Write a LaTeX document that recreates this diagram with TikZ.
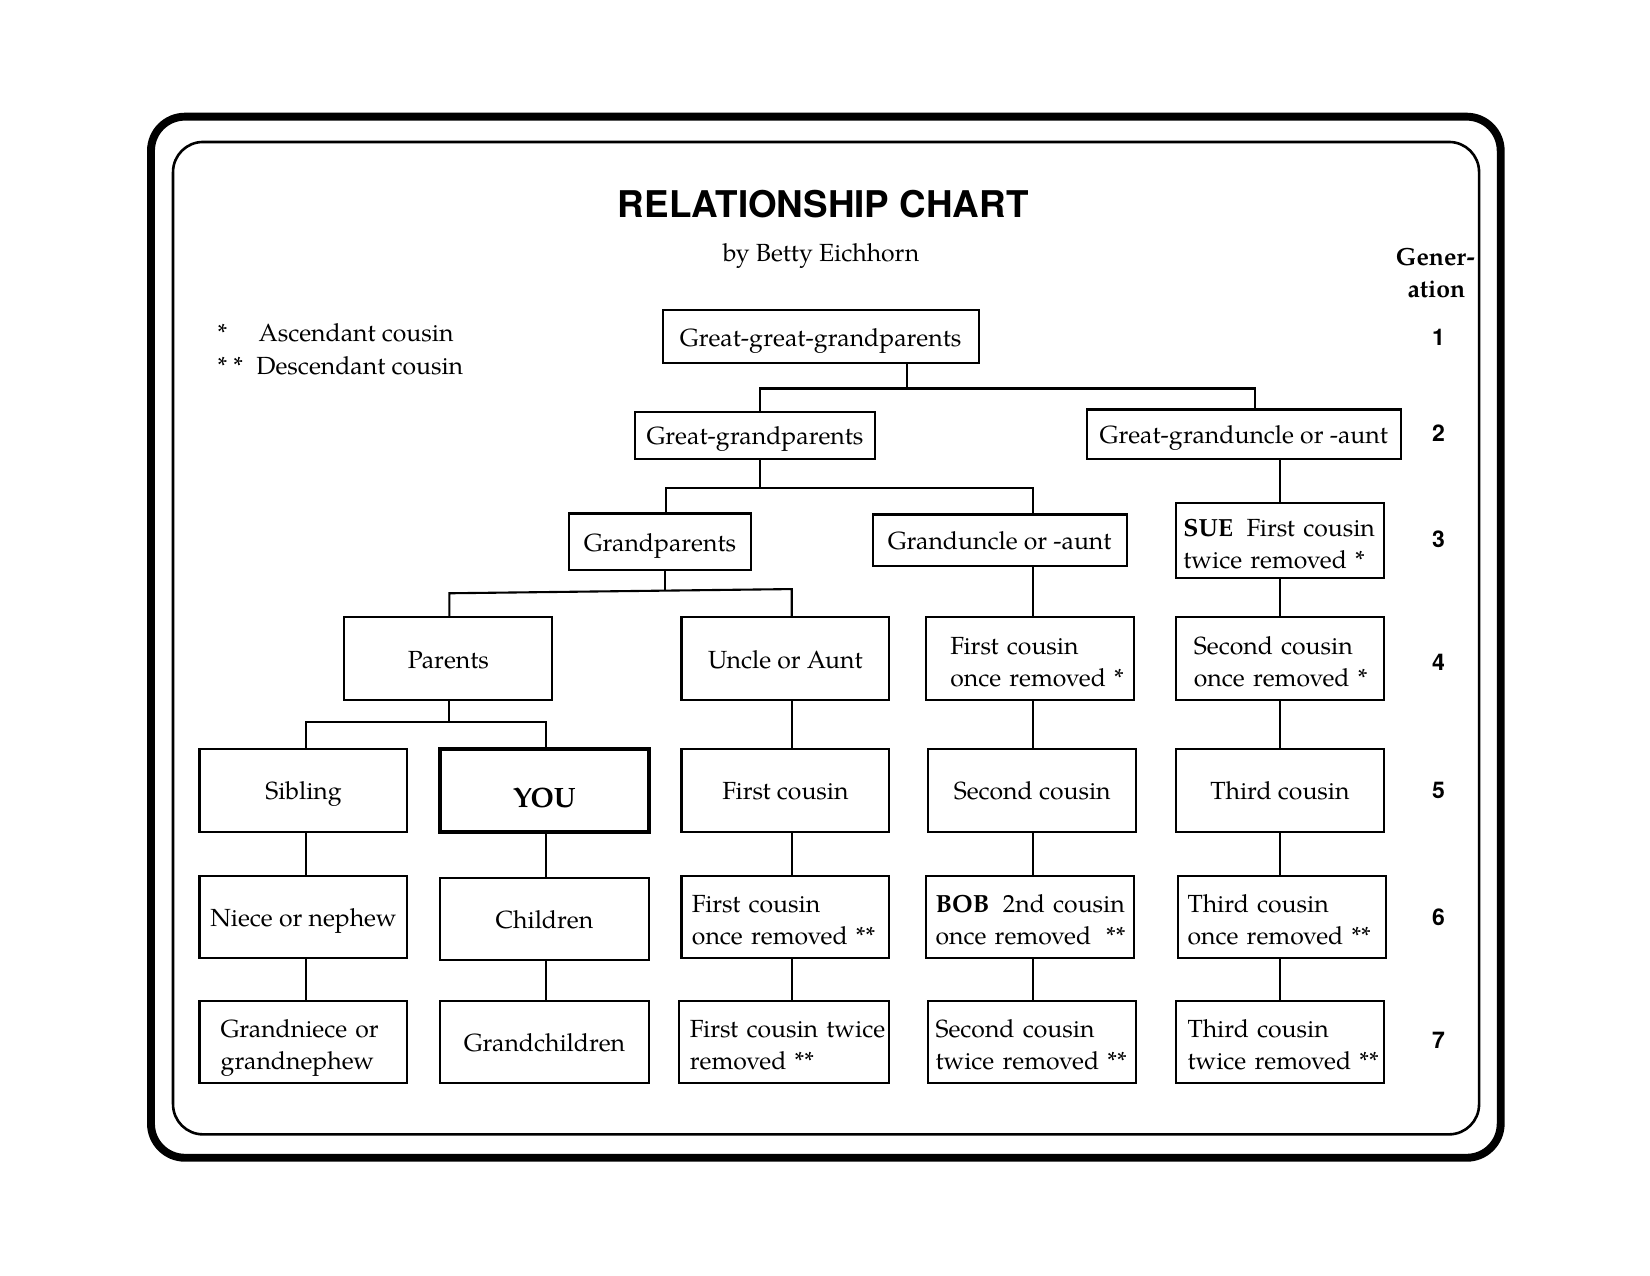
\documentclass[tikz,border=0pt]{standalone}
\usepackage{fontspec}
\setmainfont{texgyrepagella}[Extension=.otf, UprightFont=*-regular, BoldFont=*-bold, ItalicFont=*-italic, BoldItalicFont=*-bolditalic]
\newfontfamily\heros{TeX Gyre Heros}
\newcommand\boxfont{\fontsize{24.8pt}{32.5pt}\selectfont}
\newcommand\titlefont{\heros\bfseries\fontsize{36.8pt}{40pt}\selectfont}
\newcommand\numfont{\heros\bfseries\fontsize{23pt}{26pt}\selectfont}
\newcommand\cbx[7][]{\node[box,minimum width={\dimexpr(#5pt-#3pt)*105/100\relax},minimum height={\dimexpr(#6pt-#4pt)*105/100\relax},#1] (#2) at ({(#3+#5)/2},{(#4+#6)/2}) {#7};}
\newcommand\lbx[8][]{\node[lbox,minimum width={\dimexpr(#5pt-#3pt)*105/100\relax},minimum height={\dimexpr(#6pt-#4pt)*105/100\relax},text width={\dimexpr(#5pt-#3pt-#7pt*2)*105/100\relax},inner xsep={\dimexpr #7pt*105/100\relax},#1] (#2) at ({(#3+#5)/2},{(#4+#6)/2}) {\begin{tabular}{@{}l@{}}\rule{0pt}{33pt}#8\end{tabular}};}
\tikzset{
  box/.style={draw, line width=2.1pt, inner sep=0pt, font=\boxfont, text height=28.75pt, text depth=9.75pt},
  lbox/.style={draw, line width=2.1pt, inner ysep=0pt, font=\boxfont, align=left},
  conn/.style={line width=2.1pt},
  lbl/.style={inner sep=0pt, font=\boxfont},
}
\begin{document}
\begin{tikzpicture}[x=1.05pt,y=-1.05pt]
\useasboundingbox (0,0) rectangle (1571.4,1214.3);
% frames
\draw[line width=7.9pt, rounded corners=34pt] (143.8,111.1) rectangle (1429.2,1102.6);
\draw[line width=2.6pt, rounded corners=30pt] (164.8,135.2) rectangle (1408.6,1080.3);
% titles
\node[anchor=base, inner sep=0pt, font=\titlefont] (title) at (784,207) {RELATIONSHIP CHART};
\node[anchor=base, lbl] (by) at (782,249) {by Betty Eichhorn};
% legend
\node[anchor=base west, lbl] (st1) at (207,325) {*};
\node[anchor=base west, lbl] (asc) at (246,325) {Ascendant cousin};
\node[anchor=base west, lbl] (st2) at (207,356.5) {* *};
\node[anchor=base west, lbl] (desc) at (244,356.5) {Descendant cousin};
% generation column
\node[anchor=base, lbl, font=\boxfont\bfseries] (gen1) at (1367,252.6) {Gener-};
\node[anchor=base, lbl, font=\boxfont\bfseries] (gen2) at (1368,283) {ation};
\foreach \n/\y in {1/321.5,2/412.5,3/513.5,4/630.5,5/752.5,6/873.5,7/990.5}
  \node[inner sep=0pt, font=\numfont] (g\n) at (1370,\y) {\n};
% boxes
\cbx{ggg}{631}{295}{932}{346}{Great-great-grandparents}
\cbx{gg}{605}{392}{833}{437}{Great-grandparents}
\cbx{ggu}{1035}{390}{1334}{437}{Great-granduncle or -aunt}
\cbx{gp}{542}{489}{715}{543}{Grandparents}
\cbx{gu}{831}{490}{1073}{539}{Granduncle or -aunt}
\lbx{sue}{1120}{480}{1318}{550}{7}{\textbf{SUE}\hspace{0.55em}First cousin\\twice removed *}
\cbx{par}{328}{588}{526}{667}{Parents}
\cbx{ua}{649}{588}{847}{667}{Uncle or Aunt}
\lbx{fca}{882}{588}{1080}{667}{23}{First cousin\\once removed *}
\lbx{sca}{1120}{588}{1318}{667}{17}{Second cousin\\once removed *}
\cbx{sib}{190}{713}{388}{792}{Sibling\hspace{14pt}}
\cbx[line width=4.2pt, font=\boxfont\fontsize{28pt}{32pt}\selectfont\bfseries, text height=34.7pt, text depth=0pt]{you}{419}{713}{618}{792}{YOU}
\cbx{fc}{649}{713}{847}{792}{First cousin}
\cbx{sc}{884}{713}{1082}{792}{Second cousin}
\cbx{tc}{1120}{713}{1318}{792}{Third cousin}
\cbx{niece}{190}{834}{388}{912}{Niece or nephew}
\cbx{child}{419}{836}{618}{914}{Children}
\lbx{fcd}{649}{834}{847}{912}{10}{First cousin\\once removed **}
\lbx{bob}{882}{834}{1080}{912}{9}{\textbf{BOB}\hspace{0.55em}2nd cousin\\once removed\hspace{0.6em}**}
\lbx{tcd}{1122}{834}{1320}{912}{9}{Third cousin\\once removed **}
\lbx{gn}{190}{953}{388}{1031}{20}{Grandniece or\\grandnephew}
\cbx{gch}{419}{953}{618}{1031}{Grandchildren}
\lbx{fctd}{647}{953}{847}{1031}{10}{First cousin twice\\removed **}
\lbx{sctd}{884}{953}{1082}{1031}{7}{Second cousin\\twice removed **}
\lbx{tctd}{1120}{953}{1318}{1031}{11}{Third cousin\\twice removed **}
% junction coordinates
\coordinate (jT) at (864,370); \coordinate (jL) at (724,370); \coordinate (jR) at (1195,370);
\coordinate (kT) at (724,465); \coordinate (kL) at (634,465); \coordinate (kR) at (984,465);
\coordinate (mT) at (633,563); \coordinate (mL) at (428,565); \coordinate (mR) at (754,561);
\coordinate (pT) at (428,688); \coordinate (pL) at (291,688); \coordinate (pR) at (520,688);
\coordinate (c1) at (291,0); \coordinate (c2) at (520,0); \coordinate (c3) at (754,0);
\coordinate (c4) at (984,0); \coordinate (c5) at (1219,0);
% connectors
\draw[conn] (ggg.south -| jT) -- (jT);
\draw[conn] (gg.north -| jL) -- (jL) -- (jR) -- (ggu.north -| jR);
\draw[conn] (gg.south -| kT) -- (kT);
\draw[conn] (gp.north -| kL) -- (kL) -- (kR) -- (gu.north -| kR);
\draw[conn] (ggu.south -| c5) -- (sue.north -| c5);
\draw[conn] (gp.south -| mT) -- (mT);
\draw[conn] (par.north -| mL) -- (mL) -- (mR) -- (ua.north -| mR);
\draw[conn] (gu.south -| c4) -- (fca.north -| c4);
\draw[conn] (sue.south -| c5) -- (sca.north -| c5);
\draw[conn] (par.south -| pT) -- (pT);
\draw[conn] (sib.north -| pL) -- (pL) -- (pR) -- (you.north -| pR);
\draw[conn] (ua.south -| c3) -- (fc.north -| c3);
\draw[conn] (fca.south -| c4) -- (sc.north -| c4);
\draw[conn] (sca.south -| c5) -- (tc.north -| c5);
\draw[conn] (sib.south -| c1) -- (niece.north -| c1);
\draw[conn] (niece.south -| c1) -- (gn.north -| c1);
\draw[conn] (you.south -| c2) -- (child.north -| c2);
\draw[conn] (child.south -| c2) -- (gch.north -| c2);
\draw[conn] (fc.south -| c3) -- (fcd.north -| c3);
\draw[conn] (fcd.south -| c3) -- (fctd.north -| c3);
\draw[conn] (sc.south -| c4) -- (bob.north -| c4);
\draw[conn] (bob.south -| c4) -- (sctd.north -| c4);
\draw[conn] (tc.south -| c5) -- (tcd.north -| c5);
\draw[conn] (tcd.south -| c5) -- (tctd.north -| c5);
\end{tikzpicture}
\end{document}
